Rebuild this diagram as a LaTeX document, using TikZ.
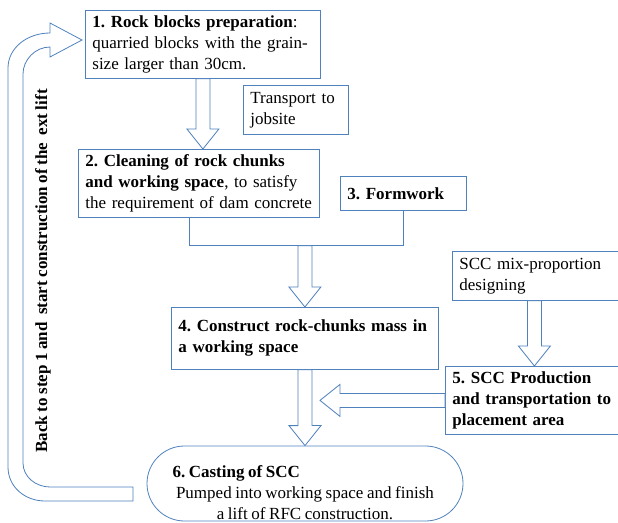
\documentclass[tikz,border=0pt]{standalone}
\usepackage{fontspec}
\setmainfont{Liberation Serif}[WordSpace=0.85]
\usepackage{tikz}
\usetikzlibrary{calc, shapes.misc}

\definecolor{boxblue}{RGB}{79,129,189}
\newcommand{\stagefont}{\fontsize{17}{21}\selectfont\frenchspacing\hyphenpenalty=10000\relax}

\tikzset{
  stage/.style={draw=boxblue, line width=0.8pt, anchor=north west, align=left,
    inner xsep=7pt, inner ysep=0pt, font=\stagefont},
  terminal/.style={rounded rectangle, draw=boxblue, line width=0.8pt,
    minimum width=316pt, minimum height=75pt, inner sep=0pt},
  fat arrow/.style={draw=boxblue, fill=white, line width=0.8pt},
  link/.style={draw=boxblue, line width=0.8pt},
}

% hollow block arrow from #1 to #2
\newcommand{\blockarrow}[2]{%
  \path let \p1=(#1), \p2=(#2) in
    \pgfextra{\pgfmathsetmacro{\arrlen}{veclen(\x2-\x1,\y2-\y1)}%
      \pgfmathsetmacro{\arrang}{atan2(\y2-\y1,\x2-\x1)}%
      \xdef\arrlen{\arrlen}\xdef\arrang{\arrang}};
  \draw[fat arrow, shift={(#1)}, rotate=\arrang]
    (0pt,-7pt) -- ({\arrlen pt-20pt},-7pt) -- ({\arrlen pt-20pt},-16pt)
    -- ({\arrlen pt},0pt) -- ({\arrlen pt-20pt},16pt) -- ({\arrlen pt-20pt},7pt)
    -- (0pt,7pt) -- cycle;
}

\begin{document}
\begin{tikzpicture}[x=1pt,y=-1pt]
  \useasboundingbox (0,0) rectangle (618,522);

  % Steps
  \node[stage, text width=221pt, minimum height=68pt] (b1) at (85,10)
    {\textbf{1. Rock blocks preparation}:\\quarried blocks with the grain-\\size larger than 30cm.};
  \node[stage, text width=91pt, minimum height=49pt] (trans) at (243,85)
    {Transport to\\jobsite};
  \node[stage, text width=227pt, minimum height=68pt] (b2) at (78,149)
    {\textbf{2. Cleaning of rock chunks}\\\textbf{and working space}, to satisfy\\the requirement of dam concrete};
  \node[stage, text width=112pt, minimum height=34pt] (b3) at (340,176)
    {\textbf{3. Formwork}};
  \node[stage, text width=253pt, minimum height=62pt] (b4) at (171,307)
    {\textbf{4. Construct rock-chunks mass in}\\\textbf{a working space}};
  \node[stage, text width=170pt, minimum height=49pt] (mix) at (452,251)
    {SCC mix-proportion\\designing};
  \node[stage, text width=170pt, minimum height=68pt] (b5) at (445,366)
    {\textbf{5. SCC Production}\\\textbf{and transportation to}\\\textbf{placement area}};
  \node[terminal] (b6) at (305,483.5) {};
  \node[font=\stagefont, align=center, inner sep=0pt] (b6txt) at ([yshift=-9pt]b6.center)
    {\makebox[265pt][l]{\textbf{6. Casting of SCC}}\\Pumped into working space and finish\\a lift of RFC construction.};

  % Joining steps 2 and 3
  \coordinate (b2foot) at ($(b2.south west)!0.46!(b2.south east)$);
  \draw[link] (b2foot) -- ++(0,28) coordinate (join) -| (b3.south);
  \coordinate (in4) at (join -| b4.north);
  \coordinate (t2) at (b1.south |- b2.north);
  \coordinate (t5) at ([xshift=-3pt]b5.north);
  \coordinate (m5) at (t5 |- mix.south);
  \coordinate (feed) at ([xshift=-125pt]b5.west);

  % Block arrows
  \blockarrow{b1.south}{t2}
  \blockarrow{in4}{b4.north}
  \blockarrow{b4.south}{b6.north}
  \blockarrow{m5}{t5}
  \blockarrow{b5.west}{feed}

  % Loop back to step 1
  \draw[fat arrow] (133,501) -- (45,501) .. controls (25,501) and (8,487) .. (8,467)
    -- (8,68) .. controls (8,48) and (27,33) .. (50,33) -- (50,23) -- (82,40)
    -- (50,57) -- (50,47) .. controls (35,47) and (23,60) .. (23,74)
    -- (23,463) .. controls (23,477) and (36,487) .. (50,487) -- (133,487) -- cycle;
  \node[font=\stagefont\bfseries, rotate=90] (back) at (43,271)
    {Back to step 1 and\ \ start construction of the\ \ ext lift};
\end{tikzpicture}
\end{document}
